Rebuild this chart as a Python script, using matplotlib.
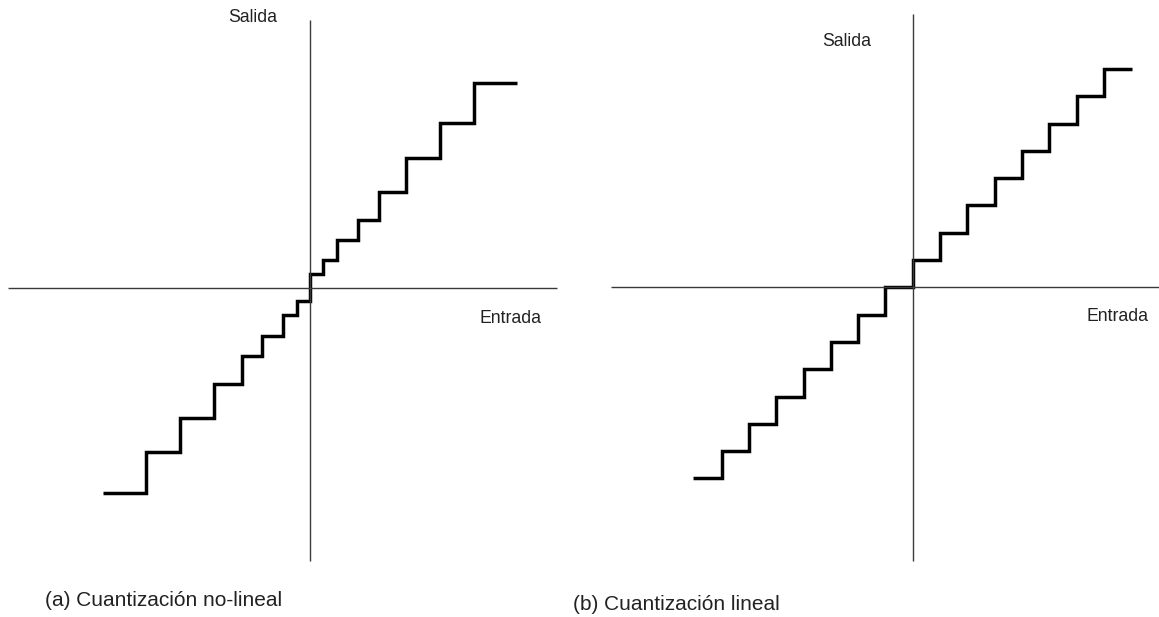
import matplotlib
matplotlib.use('Agg')
import matplotlib.pyplot as plt

plt.rcParams['font.family'] = ['Liberation Sans', 'DejaVu Sans']

W, H, DPI = 1159, 617, 100

# (a) non-linear quantizer: input edges and output levels
nl_edges = [-206.7, -164.3, -130.0, -96.0, -68.5, -48.0, -27.3, -13.3, 0.0,
            13.3, 27.3, 48.0, 68.5, 96.0, 130.0, 164.3, 206.7]
nl_levels = [-205.0, -164.5, -130.0, -96.0, -68.0, -48.0, -27.5, -13.5,
             13.5, 27.5, 48.0, 68.0, 96.0, 130.0, 164.5, 205.0]

# (b) linear quantizer, in step units
lin_edges = [-8.05, -7, -6, -5, -4, -3, -2, -1, 0, 1, 2, 3, 4, 5, 6, 7, 8.05]
lin_levels = [-7, -6, -5, -4, -3, -2, -1, 0, 1, 2, 3, 4, 5, 6, 7, 8]

captions = ['(a) Cuantización no-lineal', '(b) Cuantización lineal']

fig = plt.figure(figsize=(W / DPI, H / DPI), dpi=DPI)

axis_col = '#3a3a3a'
txt_col = '#222222'
lab_fs = 12.7

# left panel: origin at pixel (310, 287.7), 1 unit = 1 px
ox, oy = 310, 287.7
ax1 = fig.add_axes([0, 0, 610 / W, 1])
ax1.set_xlim(-ox, 610 - ox)
ax1.set_ylim(oy - H, oy)
ax1.hlines(0, 8 - ox, 557 - ox, color=axis_col, lw=1.0)
ax1.vlines(0, oy - 560.7, oy - 20, color=axis_col, lw=1.0)
ax1.stairs(nl_levels, nl_edges, baseline=None, color='black', lw=2.5)
ax1.text(227.7 - ox, oy - 21.7, 'Salida', fontsize=lab_fs, color=txt_col, va='baseline')
ax1.text(479.3 - ox, oy - 322.7, 'Entrada', fontsize=lab_fs, color=txt_col, va='baseline')
ax1.axis('off')

# right panel: origin at pixel (912.7, 287.3), 1 unit = 27.3 px
ox2, oy2, s = 912.7, 287.3, 27.3
left2 = 611
ax2 = fig.add_axes([left2 / W, 0, (W - left2) / W, 1])
ax2.set_xlim((left2 - ox2) / s, (W - ox2) / s)
ax2.set_ylim((oy2 - H) / s, oy2 / s)
ax2.hlines(0, (left2 - ox2) / s, (W - ox2) / s, color=axis_col, lw=1.0)
ax2.vlines(0, (oy2 - 560.7) / s, (oy2 - 14) / s, color=axis_col, lw=1.0)
ax2.stairs(lin_levels, lin_edges, baseline=None, color='black', lw=2.5)
ax2.text((822.3 - ox2) / s, (oy2 - 46) / s, 'Salida', fontsize=lab_fs, color=txt_col, va='baseline')
ax2.text((1086.7 - ox2) / s, (oy2 - 320.7) / s, 'Entrada', fontsize=lab_fs, color=txt_col, va='baseline')
ax2.axis('off')

fig.text(45 / W, 1 - 605.5 / H, captions[0], fontsize=15, color=txt_col, va='baseline')
fig.text(573 / W, 1 - 609.5 / H, captions[1], fontsize=15, color=txt_col, va='baseline')

fig.savefig('out.png', dpi=DPI, facecolor='white')
